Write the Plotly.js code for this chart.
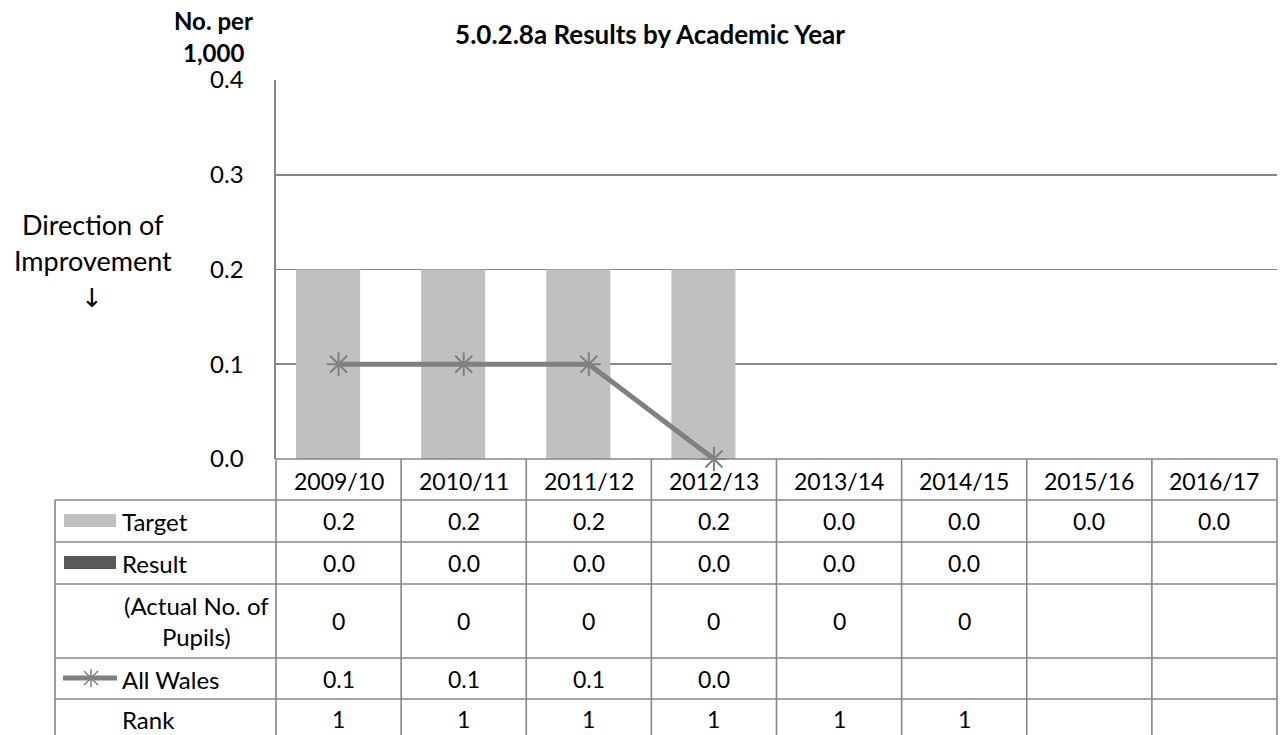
<!DOCTYPE html>
<html>
<head>
<meta charset="utf-8">
<script src="https://cdn.plot.ly/plotly-3.0.1.min.js"></script>
<style>html,body{margin:0;padding:0;background:#fff;}#chart{width:1283px;height:735px;}</style>
</head>
<body>
<div id="chart"></div>
<script>
// ---- data ----
const years = ["2009/10","2010/11","2011/12","2012/13","2013/14","2014/15","2015/16","2016/17"];
const target = [0.2, 0.2, 0.2, 0.2, 0.0, 0.0, 0.0, 0.0];
const result = [0.0, 0.0, 0.0, 0.0, 0.0, 0.0, null, null];
const actualPupils = [0, 0, 0, 0, 0, 0, null, null];
const allWales = [0.1, 0.1, 0.1, 0.0, null, null, null, null];
const rank = [1, 1, 1, 1, 1, 1, null, null];
const yTicks = [0.0, 0.1, 0.2, 0.3, 0.4];

// ---- layout geometry (pixels) ----
const W = 1283, H = 735;
const PL = 276, PR = 1277, PT = 80, PB = 459;
const px = x => (x - PL) / (PR - PL);
const py = y => (PB - y) / (PB - PT);
const GRID = '#868686';
const FONT = 'Lato, "Liberation Sans", sans-serif';
const FS = 23;   // numbers
const FL = 24;   // text labels

const rowLines = [500, 542, 584, 658, 699];
const rowCenters = {target: 521, result: 563, actual: 621, wales: 679, rank: 719};
const headerCenter = 481;

const shapes = [];
const annotations = [];
function line(x0, y0, x1, y1, color, w) {
  shapes.push({type: 'line', xref: 'paper', yref: 'paper', x0: px(x0), y0: py(y0), x1: px(x1), y1: py(y1),
    line: {color: color || GRID, width: w || 1.6}, layer: 'above'});
}
// table horizontal lines
rowLines.forEach(y => line(55, y, PR, y));
line(PL, PB, PR, PB);
// table vertical lines
line(55, 500, 55, 740);
for (let i = 0; i <= years.length; i++) {
  const x = PL + i * (PR - PL) / years.length;
  line(x, PB, x, 740);
}
// legend keys
shapes.push({type: 'rect', xref: 'paper', yref: 'paper', x0: px(64), x1: px(116), y0: py(514), y1: py(527),
  fillcolor: '#c0c0c0', line: {width: 0}});
shapes.push({type: 'rect', xref: 'paper', yref: 'paper', x0: px(64), x1: px(116), y0: py(556), y1: py(569),
  fillcolor: '#595959', line: {width: 0}});
line(63, 678, 117, 678, '#808080', 5);
line(84, 671, 98, 685, '#808080', 1.5);
line(84, 685, 98, 671, '#808080', 1.5);
line(91, 669, 91, 687, '#808080', 1.5);

// header row (category labels)
years.forEach((yr, i) => {
  annotations.push({xref: 'x', yref: 'paper', x: yr, y: py(headerCenter), text: yr, showarrow: false,
    font: {size: FS, color: '#000'}, xanchor: 'center', yanchor: 'middle'});
});
function rowText(vals, fmt, yc) {
  vals.forEach((v, i) => {
    if (v === null) return;
    annotations.push({xref: 'x', yref: 'paper', x: years[i], y: py(yc), text: fmt(v), showarrow: false,
      font: {size: FS, color: '#000'}, xanchor: 'center', yanchor: 'middle'});
  });
}
rowText(target, v => v.toFixed(1), rowCenters.target);
rowText(result, v => v.toFixed(1), rowCenters.result);
rowText(actualPupils, v => String(v), rowCenters.actual);
rowText(allWales, v => v.toFixed(1), rowCenters.wales);
rowText(rank, v => String(v), rowCenters.rank);

// row labels
function label(text, x, y, anchor) {
  annotations.push({xref: 'paper', yref: 'paper', x: px(x), y: py(y), text: text, showarrow: false,
    font: {size: FL, color: '#000'}, xanchor: anchor, yanchor: 'middle', align: 'center'});
}
label('Target', 120, rowCenters.target, 'left');
label('Result', 120, rowCenters.result, 'left');
label('(Actual No. of<br>Pupils)', 196, rowCenters.actual, 'center');
label('All Wales', 120, rowCenters.wales, 'left');
label('Rank', 120, rowCenters.rank, 'left');

// axis title & direction
annotations.push({xref: 'paper', yref: 'paper', x: px(213), y: py(21), text: '<b>No. per</b>', showarrow: false,
  font: {size: 24, color: '#000'}, xanchor: 'center', yanchor: 'middle'});
annotations.push({xref: 'paper', yref: 'paper', x: px(213), y: py(52), text: '<b>1,000</b>', showarrow: false,
  font: {size: 24, color: '#000'}, xanchor: 'center', yanchor: 'middle'});
annotations.push({xref: 'paper', yref: 'paper', x: px(93), y: py(225), text: 'Direction of', showarrow: false,
  font: {size: 27, color: '#000'}, xanchor: 'center', yanchor: 'middle'});
annotations.push({xref: 'paper', yref: 'paper', x: px(93), y: py(260), text: 'Improvement', showarrow: false,
  font: {size: 27, color: '#000'}, xanchor: 'center', yanchor: 'middle'});
annotations.push({xref: 'paper', yref: 'paper', x: px(92), y: py(298), text: '↓', showarrow: false,
  font: {size: 26, color: '#000', family: '"DejaVu Sans", sans-serif'}, xanchor: 'center', yanchor: 'middle'});

const traces = [
  {type: 'bar', name: 'Target', x: years, y: target, marker: {color: '#c0c0c0'}, width: 0.512, offset: -0.34,
   hoverinfo: 'skip'},
  {type: 'bar', name: 'Result', x: years, y: result, marker: {color: '#595959'}, width: 0.512, offset: -0.17,
   hoverinfo: 'skip'},
  {type: 'scatter', mode: 'lines+markers', name: 'All Wales', x: years, y: allWales,
   line: {color: '#808080', width: 5}, marker: {symbol: 'asterisk-open', size: 20, color: '#808080', line: {color: '#808080', width: 2}},
   cliponaxis: false, hoverinfo: 'skip'}
];

const layout = {
  width: W, height: H,
  margin: {l: PL, r: W - PR, t: PT, b: H - PB, pad: 0},
  paper_bgcolor: '#fff', plot_bgcolor: '#fff',
  font: {family: FONT, size: FS, color: '#000'},
  showlegend: false,
  barmode: 'overlay',
  title: {text: '<b>5.0.2.8a Results by Academic Year</b>', x: 650 / W, xanchor: 'center', y: 1 - 35 / H, yanchor: 'middle',
    font: {size: 26, color: '#000', family: FONT}},
  xaxis: {type: 'category', categoryarray: years, range: [-0.5, 7.5], showticklabels: false, ticks: '',
    showgrid: false, zeroline: false, showline: false, fixedrange: true},
  yaxis: {range: [0, 0.4], tickvals: yTicks, ticktext: yTicks.map(v => v.toFixed(1)), ticks: '',
    ticklabelstandoff: 26, showgrid: true, gridcolor: GRID, gridwidth: 1.6, zeroline: false,
    showline: true, linecolor: GRID, linewidth: 1.6, tickfont: {size: 24, color: '#000'}, fixedrange: true},
  shapes: shapes,
  annotations: annotations
};

Plotly.newPlot('chart', traces, layout, {displayModeBar: false, staticPlot: true});
</script>
</body>
</html>
